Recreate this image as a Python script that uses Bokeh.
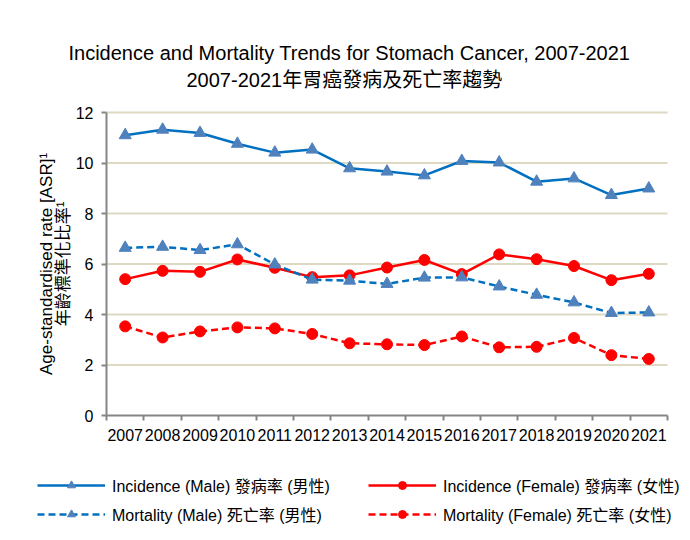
from bokeh.plotting import figure
from bokeh.models import (Range1d, FixedTicker, Legend, LegendItem, Title)
from bokeh.embed import file_html
from bokeh.resources import INLINE

years = [2007, 2008, 2009, 2010, 2011, 2012, 2013, 2014, 2015, 2016, 2017, 2018, 2019, 2020, 2021]
year_labels = [str(y) for y in years]
inc_male = [11.10, 11.32, 11.19, 10.76, 10.41, 10.53, 9.79, 9.66, 9.51, 10.08, 10.02, 9.26, 9.39, 8.73, 8.99]
inc_female = [5.40, 5.73, 5.69, 6.18, 5.85, 5.48, 5.55, 5.86, 6.16, 5.60, 6.38, 6.19, 5.92, 5.36, 5.61]
mort_male = [6.64, 6.68, 6.55, 6.78, 5.98, 5.38, 5.34, 5.21, 5.46, 5.47, 5.11, 4.78, 4.48, 4.06, 4.08]
mort_female = [3.53, 3.09, 3.33, 3.49, 3.45, 3.23, 2.86, 2.82, 2.79, 3.13, 2.70, 2.72, 3.07, 2.39, 2.24]
y_ticks = [0, 2, 4, 6, 8, 10, 12]

title1 = "Incidence and Mortality Trends for Stomach Cancer, 2007-2021"
title2 = "2007-2021年胃癌發病及死亡率趨勢"
ylabel = "Age-standardised rate [ASR]¹\n年齡標準化比率¹"
names = ["Incidence (Male) 發病率 (男性)", "Incidence (Female) 發病率 (女性)",
         "Mortality (Male) 死亡率 (男性)", "Mortality (Female) 死亡率 (女性)"]

FONT = "'Liberation Sans', 'Noto Sans CJK TC', sans-serif"
BLUE_LINE = "#0070C0"
BLUE_MARK = "#4F81BD"
RED = "#FF0000"
GRID = "#DDD9C3"
AXIS = "#868686"

# layout geometry (pixels): the frame covers the whole canvas below the titles,
# axes are drawn at fixed locations inside it so the legend can sit below them
W, H = 682, 532
TOP = 100                     # frame top
Y_TOP_PX = 112                # pixel of the top y tick
X_LEFT_PX, X_RIGHT_PX = 106, 667
Y_ZERO_PX = 415
x_lo = years[0] - 0.5
x_hi = years[-1] + 0.5
ppx = (X_RIGHT_PX - X_LEFT_PX) / (x_hi - x_lo)
ppy = (Y_ZERO_PX - Y_TOP_PX) / (y_ticks[-1] - y_ticks[0])

p = figure(width=W, height=H, output_backend="svg", toolbar_location=None,
           x_range=Range1d(x_lo - X_LEFT_PX / ppx, x_hi + (W - X_RIGHT_PX) / ppx),
           y_range=Range1d(y_ticks[0] - (H - Y_ZERO_PX) / ppy,
                           y_ticks[-1] + (Y_TOP_PX - TOP) / ppy),
           min_border_left=0, min_border_right=0, min_border_top=TOP, min_border_bottom=0)
p.title = None
p.outline_line_color = None

# titles (first added is closest to the frame)
t2 = Title(text=title2, align="left", text_font_size="20px", text_font=FONT,
           text_font_style="normal", text_color="#000000", offset=186, standoff=19)
t1 = Title(text=title1, align="left", text_font_size="20px", text_font=FONT,
           text_font_style="normal", text_color="#000000", offset=68, standoff=-13)
p.add_layout(t2, "above")
p.add_layout(t1, "above")

# horizontal gridlines over the plotting area only
p.xgrid.grid_line_color = None
p.ygrid.grid_line_color = None
p.segment(x0=[x_lo] * (len(y_ticks) - 1), x1=[x_hi] * (len(y_ticks) - 1),
          y0=y_ticks[1:], y1=y_ticks[1:], line_color=GRID, line_width=2)

# axes
xa = p.xaxis[0]
xa.fixed_location = y_ticks[0]
xa.bounds = (x_lo, x_hi)
xa.ticker = FixedTicker(ticks=years, minor_ticks=[y - 0.5 for y in years] + [x_hi])
xa.major_label_overrides = {y: s for y, s in zip(years, year_labels)}
xa.major_tick_out = 0
xa.major_tick_in = 0
xa.minor_tick_out = 5
xa.minor_tick_in = 0
xa.minor_tick_line_color = AXIS
xa.minor_tick_line_width = 2
xa.axis_line_color = AXIS
xa.axis_line_width = 2
xa.major_label_text_font = FONT
xa.major_label_text_font_size = "16px"
xa.major_label_text_color = "#000000"
xa.major_label_standoff = 8

ya = p.yaxis[0]
ya.fixed_location = x_lo
ya.bounds = (y_ticks[0], y_ticks[-1])
ya.ticker = FixedTicker(ticks=y_ticks, minor_ticks=[])
ya.major_tick_out = 5
ya.major_tick_in = 0
ya.major_tick_line_color = AXIS
ya.major_tick_line_width = 2
ya.minor_tick_out = 0
ya.minor_tick_in = 0
ya.axis_line_color = AXIS
ya.axis_line_width = 2
ya.major_label_text_font = FONT
ya.major_label_text_font_size = "16px"
ya.major_label_text_color = "#000000"
ya.major_label_standoff = 8
ya.axis_label = ylabel
ya.axis_label_text_font = FONT
ya.axis_label_text_font_size = "17px"
ya.axis_label_text_font_style = "normal"
ya.axis_label_text_color = "#000000"
ya.axis_label_text_line_height = 0.87
ya.axis_label_standoff = 0

# series
l1 = p.line(years, inc_male, line_color=BLUE_LINE, line_width=2.5)
m1 = p.scatter(years, inc_male, marker="triangle", size=12, fill_color=BLUE_MARK, line_color=BLUE_MARK)
l2 = p.line(years, inc_female, line_color=RED, line_width=2.5)
m2 = p.scatter(years, inc_female, marker="circle", size=11, fill_color=RED, line_color=RED)
l3 = p.line(years, mort_male, line_color=BLUE_LINE, line_width=2.5, line_dash="7 4")
m3 = p.scatter(years, mort_male, marker="triangle", size=12, fill_color=BLUE_MARK, line_color=BLUE_MARK)
l4 = p.line(years, mort_female, line_color=RED, line_width=2.5, line_dash="7 4")
m4 = p.scatter(years, mort_female, marker="circle", size=11, fill_color=RED, line_color=RED)


def make_legend(items, loc):
    return Legend(items=items, location=loc, orientation="vertical",
                  glyph_width=68, glyph_height=20, label_standoff=7, spacing=5,
                  label_height=20, padding=0, margin=0,
                  border_line_alpha=0, background_fill_alpha=0,
                  label_text_font=FONT, label_text_font_size="16px", label_text_color="#000000")


legA = make_legend([LegendItem(label=names[0], renderers=[l1, m1]),
                    LegendItem(label=names[2], renderers=[l3, m3])], (37, 6))
legB = make_legend([LegendItem(label=names[1], renderers=[l2, m2]),
                    LegendItem(label=names[3], renderers=[l4, m4])], (368, 6))
p.add_layout(legA, "center")
p.add_layout(legB, "center")

open("out.html", "w").write(file_html(p, INLINE))
